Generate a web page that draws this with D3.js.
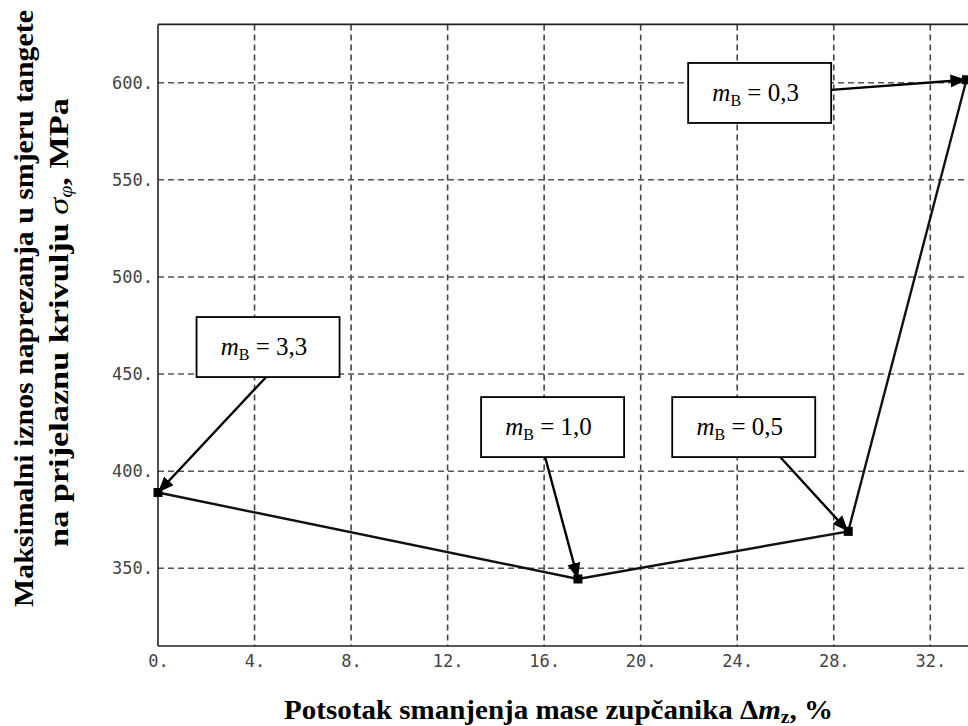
<!DOCTYPE html>
<html>
<head>
<meta charset="utf-8">
<script src="https://cdn.jsdelivr.net/npm/d3@7"></script>
<style>
  html, body { margin: 0; padding: 0; background: #fff; }
  svg { display: block; }
</style>
</head>
<body>
<svg id="chart" width="968" height="726"></svg>
<script>
// ---- data ----
const xValues = [0, 17.4, 28.6, 33.5];          // Δm_z, %
const yValues = [389, 344.5, 369, 601.5];       // σφ, MPa
const xTicks = [0, 4, 8, 12, 16, 20, 24, 28, 32];
const yTicks = [350, 400, 450, 500, 550, 600];
const annoLabels = ["3,3", "1,0", "0,5", "0,3"];
const annoX = [4.56, 16.35, 24.27, 24.93];      // box centre (data units)
const annoY = [463.9, 422.7, 422.7, 594.7];
const arrowFromX = [4.48, 16.04, 25.78, 27.90]; // arrow tail (data units)
const arrowFromY = [448.5, 407.3, 407.3, 596.3];
const arrowToIdx = [0, 1, 2, 3];

(function () {
const svg = d3.select("#chart");
const W = 968;
const mLeft = 158, mBottom = 646, mTop = 24.4;

const x = d3.scaleLinear().domain([0, 33.6]).range([mLeft, mLeft + 33.6 * 24.134]);
const y = d3.scaleLinear().domain([310, 630]).range([mBottom, mTop]);

// ---- grid ----
const grid = svg.append("g");
grid.selectAll("line.v").data(xTicks.filter(d => d > 0)).join("line")
  .attr("class", "v")
  .attr("x1", d => x(d)).attr("x2", d => x(d))
  .attr("y1", y(630)).attr("y2", y(310))
  .attr("stroke", "#444").attr("stroke-width", 1.6)
  .attr("stroke-dasharray", "6,4");
grid.selectAll("line.h").data(yTicks).join("line")
  .attr("class", "h")
  .attr("x1", x(0)).attr("x2", W)
  .attr("y1", d => y(d)).attr("y2", d => y(d))
  .attr("stroke", "#555").attr("stroke-width", 1.6)
  .attr("stroke-dasharray", "6,4");

// ---- axes frame ----
svg.append("line").attr("x1", x(0)).attr("x2", x(0)).attr("y1", y(630)).attr("y2", y(310))
  .attr("stroke", "#222").attr("stroke-width", 1.6);
svg.append("line").attr("x1", x(0)).attr("x2", W).attr("y1", y(310)).attr("y2", y(310))
  .attr("stroke", "#222").attr("stroke-width", 1.6);
svg.append("line").attr("x1", x(0)).attr("x2", W).attr("y1", y(630)).attr("y2", y(630))
  .attr("stroke", "#222").attr("stroke-width", 1.6);

// ---- tick labels via d3 axes ----
const fmt = d => d + ".";
const xAxis = svg.append("g").attr("transform", `translate(0,${y(310)})`)
  .call(d3.axisBottom(x).tickValues(xTicks).tickFormat(fmt).tickSize(0).tickPadding(9));
const yAxis = svg.append("g").attr("transform", `translate(${x(0)},0)`)
  .call(d3.axisLeft(y).tickValues(yTicks).tickFormat(fmt).tickSize(0).tickPadding(5));
[xAxis, yAxis].forEach(g => {
  g.select(".domain").remove();
  g.selectAll("text").attr("font-family", "'DejaVu Sans Mono', monospace")
    .attr("font-size", 17).attr("fill", "#444");
});

// ---- data line ----
const pts = xValues.map((v, i) => [v, yValues[i]]);
svg.append("path").datum(pts)
  .attr("d", d3.line().x(d => x(d[0])).y(d => y(d[1])))
  .attr("fill", "none").attr("stroke", "#111").attr("stroke-width", 2.4);
svg.selectAll("rect.pt").data(pts).join("rect")
  .attr("class", "pt")
  .attr("x", d => x(d[0]) - 4.5).attr("y", d => y(d[1]) - 4.5)
  .attr("width", 9).attr("height", 9).attr("fill", "#000");

// ---- arrows & annotation boxes ----
svg.append("defs").append("marker")
  .attr("id", "ah").attr("markerUnits", "userSpaceOnUse")
  .attr("markerWidth", 18).attr("markerHeight", 14)
  .attr("refX", 16).attr("refY", 6.5).attr("orient", "auto")
  .append("path").attr("d", "M0,0 L16,6.5 L0,13 Z").attr("fill", "#000");

annoLabels.forEach((lab, i) => {
  const p = pts[arrowToIdx[i]];
  svg.append("line")
    .attr("x1", x(arrowFromX[i])).attr("y1", y(arrowFromY[i]))
    .attr("x2", x(p[0])).attr("y2", y(p[1]))
    .attr("stroke", "#000").attr("stroke-width", 2.4)
    .attr("marker-end", "url(#ah)");
  const cx = x(annoX[i]), cy = y(annoY[i]);
  const bw = 143, bh = 60;
  svg.append("rect").attr("x", cx - bw / 2).attr("y", cy - bh / 2)
    .attr("width", bw).attr("height", bh)
    .attr("fill", "#fff").attr("stroke", "#000").attr("stroke-width", 1.8);
  const t = svg.append("text").attr("x", cx - 4).attr("y", cy + 8)
    .attr("text-anchor", "middle")
    .attr("font-family", "'Liberation Serif', 'Times New Roman', serif")
    .attr("font-size", 25).attr("fill", "#000");
  t.append("tspan").attr("font-style", "italic").text("m");
  t.append("tspan").attr("font-size", 16).attr("dy", 5).text("B");
  t.append("tspan").attr("dy", -5).text(" = " + lab);
});

// ---- axis titles ----
function fitText(sel, targetLen) {
  const w = sel.node().getComputedTextLength();
  return targetLen / w;
}
const serif = "'Liberation Serif', 'Times New Roman', serif";

// x title
const xt = svg.append("text").attr("font-family", serif).attr("font-weight", "bold")
  .attr("font-size", 27).attr("text-anchor", "middle").attr("fill", "#000");
xt.append("tspan").text("Potsotak smanjenja mase zupčanika ");
xt.append("tspan").text("Δ");
xt.append("tspan").attr("font-style", "italic").text("m");
xt.append("tspan").attr("font-size", 18).attr("dy", 4).text("z");
xt.append("tspan").attr("dy", -4).text(", %");
{
  const s = fitText(xt, 549);
  xt.attr("transform", `translate(558.5,719) scale(${s},1)`);
}

// y title line 1
const yt1 = svg.append("text").attr("font-family", serif).attr("font-weight", "bold")
  .attr("font-size", 28).attr("text-anchor", "middle").attr("fill", "#000")
  .text("Maksimalni iznos naprezanja  u smjeru tangete");
{
  const s = fitText(yt1, 597);
  yt1.attr("transform", `translate(33,308.5) rotate(-90) scale(${s},1)`);
}
// y title line 2
const yt2 = svg.append("text").attr("font-family", serif).attr("font-weight", "bold")
  .attr("font-size", 28).attr("text-anchor", "middle").attr("fill", "#000");
yt2.append("tspan").text("na prijelaznu krivulju  ");
yt2.append("tspan").attr("font-style", "italic").attr("font-weight", "normal").text("σ");
yt2.append("tspan").attr("font-style", "italic").attr("font-weight", "normal")
  .attr("font-size", 18).attr("dy", 4).text("φ");
yt2.append("tspan").attr("dy", -4).text(", MPa");
{
  const s = fitText(yt2, 449);
  yt2.attr("transform", `translate(68,322.5) rotate(-90) scale(${s},1)`);
}
})();
</script>
</body>
</html>
